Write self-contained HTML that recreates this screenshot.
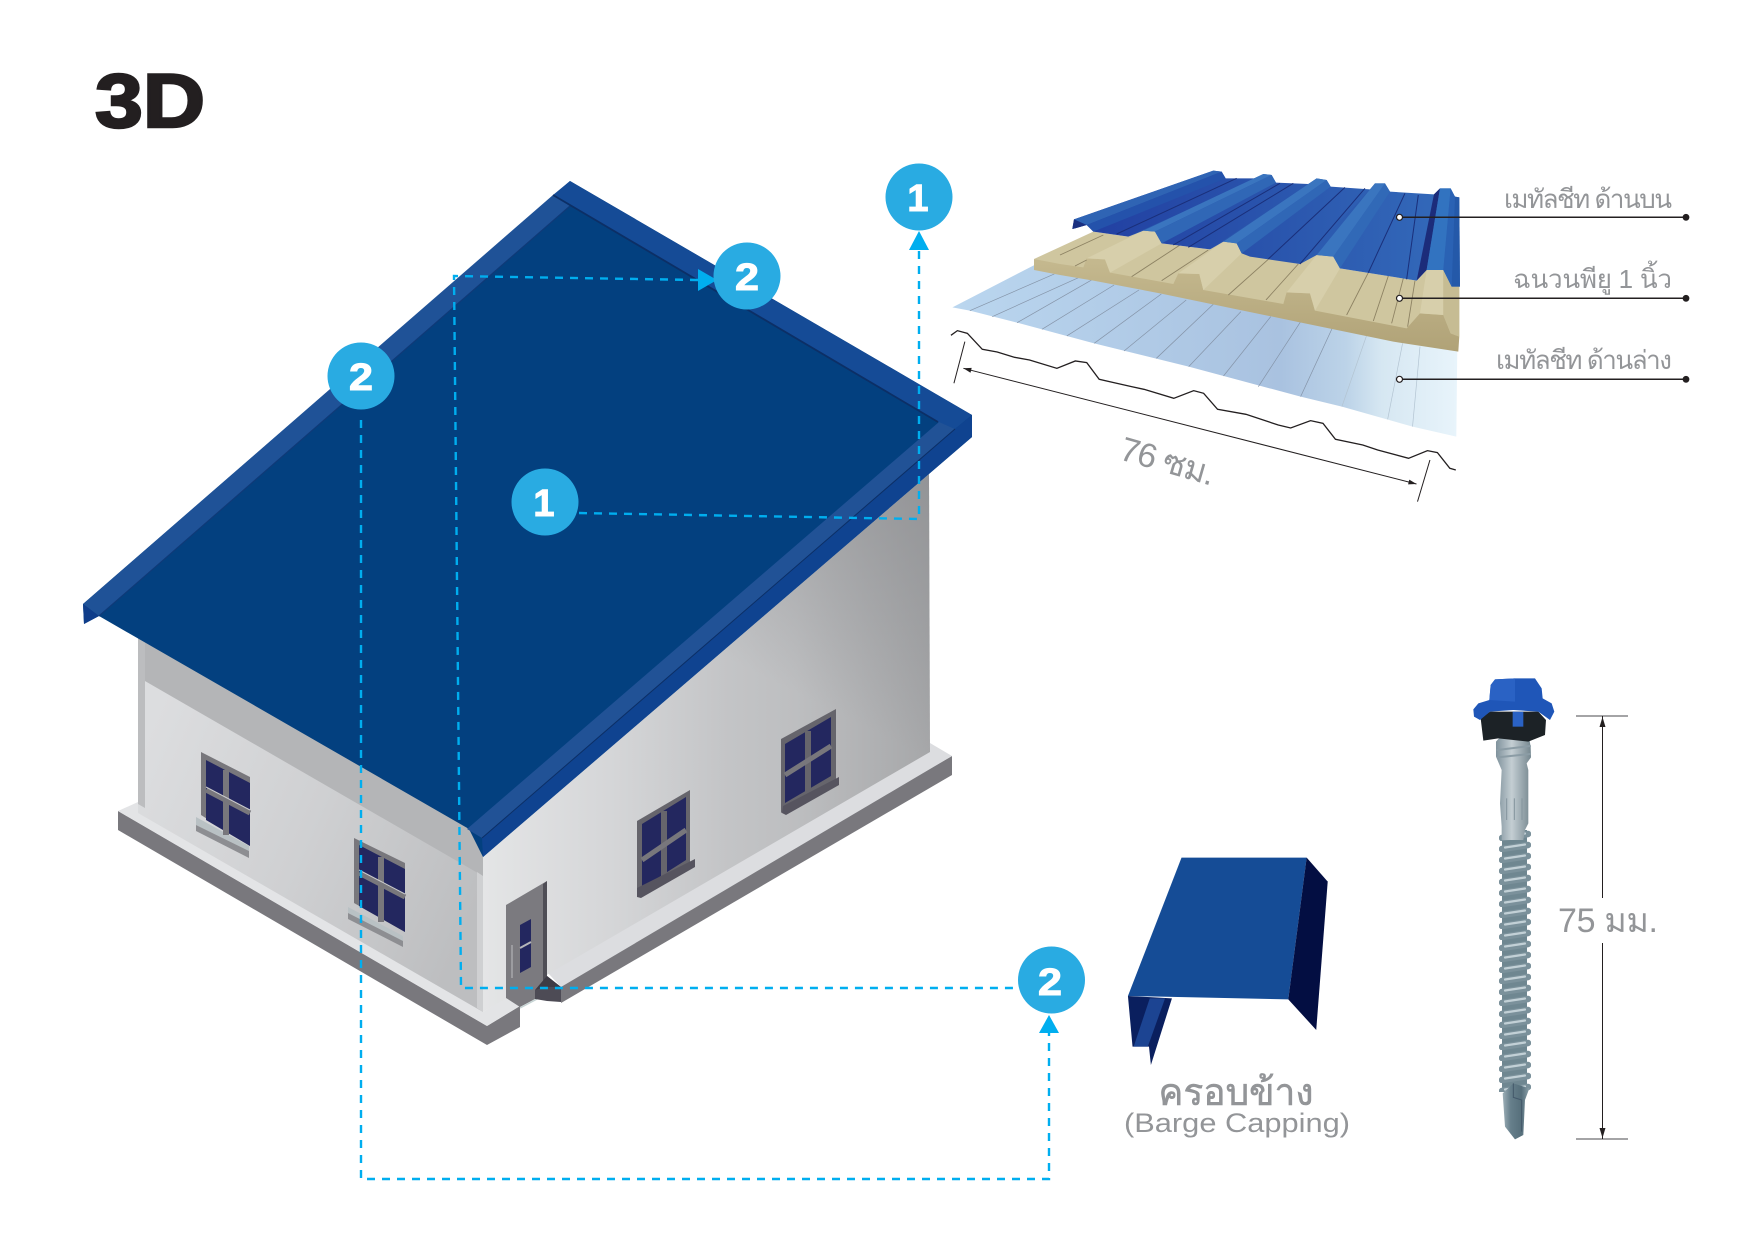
<!DOCTYPE html>
<html lang="th"><head><meta charset="utf-8"><title>3D</title>
<style>html,body{margin:0;padding:0;background:#fff}svg{display:block}
text{font-family:"Liberation Sans","DejaVu Sans","Noto Sans CJK SC",sans-serif}
.g{fill:#939598}.n{font-weight:700;fill:#fff;stroke:#fff;stroke-width:1;text-anchor:middle}
.d{fill:none;stroke:#00aeef;stroke-width:2.4;stroke-dasharray:8 7}
.z line,.z polyline{vector-effect:non-scaling-stroke}</style></head><body>
<svg xmlns="http://www.w3.org/2000/svg" width="1754" height="1240" viewBox="0 0 1754 1240">
<defs>
<linearGradient id="rw" gradientUnits="userSpaceOnUse" x1="483" y1="0" x2="930" y2="0"><stop offset="0" stop-color="#e4e5e6"/><stop offset=".3" stop-color="#d4d5d7"/><stop offset=".55" stop-color="#c3c4c6"/><stop offset=".7" stop-color="#bdbec0"/><stop offset="1" stop-color="#a6a7a9"/></linearGradient>
<linearGradient id="lw" gradientUnits="userSpaceOnUse" x1="140" y1="750" x2="480" y2="900"><stop offset="0" stop-color="#dcdddf"/><stop offset=".5" stop-color="#cfd0d2"/><stop offset="1" stop-color="#bdbec0"/></linearGradient>
<linearGradient id="rt" gradientUnits="userSpaceOnUse" x1="900" y1="470" x2="790" y2="690"><stop offset="0" stop-color="#87888b" stop-opacity=".6"/><stop offset="1" stop-color="#87888b" stop-opacity="0"/></linearGradient>
<linearGradient id="bl" gradientUnits="userSpaceOnUse" x1="100" y1="0" x2="1100" y2="0"><stop offset="0" stop-color="#2240a2"/><stop offset=".55" stop-color="#2a55ad"/><stop offset="1" stop-color="#3267b8"/></linearGradient>
<linearGradient id="pl" gradientUnits="userSpaceOnUse" x1="25" y1="0" x2="1040" y2="0"><stop offset="0" stop-color="#bad6ef"/><stop offset=".65" stop-color="#a9c2e0"/><stop offset=".78" stop-color="#bcd3e8"/><stop offset=".85" stop-color="#d6e7f2"/><stop offset="1" stop-color="#e8f4fb"/></linearGradient>
<linearGradient id="fr" x1="0" x2="0" y1="0" y2="1"><stop offset="0" stop-color="#c5b98f"/><stop offset="1" stop-color="#b0a277"/></linearGradient>
<pattern id="th" x="1499" y="830" width="32" height="11" patternUnits="userSpaceOnUse"><path d="M3 8 L29 4" stroke="#7b919b" stroke-width="6.5" stroke-linecap="round" fill="none"/><path d="M6 6.5 L26 3.5" stroke="#c2d0d6" stroke-width="2.2" stroke-linecap="round" fill="none"/></pattern>
<linearGradient id="sh" x1="0" x2="1" y1="0" y2="0"><stop offset="0" stop-color="#7f929c"/><stop offset=".45" stop-color="#c4ced3"/><stop offset="1" stop-color="#75878f"/></linearGradient>
<linearGradient id="tp" x1="0" x2="1" y1="0" y2="0"><stop offset="0" stop-color="#9eb0b8"/><stop offset=".3" stop-color="#667f8b"/><stop offset=".7" stop-color="#566f7b"/><stop offset="1" stop-color="#8ba0a9"/></linearGradient>
</defs>
<text x="95" y="127" font-size="76" font-weight="700" textLength="110" lengthAdjust="spacingAndGlyphs" fill="#231f20" stroke="#231f20" stroke-width="2.5">3D</text>

<!-- house -->
<polygon points="118,811 118,830 487,1045 520,1027 520,1006 487,1026" fill="#79787d"/>
<polygon points="561,982 952,756 952,775 561,1003" fill="#79787d"/>
<polygon points="138,802 118,811 487,1026 520,1006 506,998 483,1012" fill="#e3e4e6"/>
<polygon points="548,973 930,743 952,756 561,987" fill="#dcdde0"/>
<polygon points="138,630 483,830 483,1012 138,813" fill="url(#lw)"/>
<polygon points="138,630 483,830 483,876 138,677" fill="#b4b5b7"/>
<polygon points="138,630 145,634 145,808 138,804" fill="#bcbdbf"/>
<polygon points="477,872 483,876 483,1012 477,1008" fill="#cfd0d2"/>
<polygon points="483,857 929,474 930,752 483,1012" fill="url(#rw)"/>
<polygon points="483,857 929,474 930,752 483,1012" fill="url(#rt)"/>
<!-- windows left -->
<polygon points="196,817 249,846 249,851 196,825" fill="#b9c1c4"/><polygon points="196,825 249,851 249,858 196,831" fill="#8d8e92"/>
<polygon points="201,752 250,777 250,846 201,815" fill="#78777c"/>
<polygon points="206,760 250,783 250,846 206,820" fill="#23275f"/>
<line x1="226" y1="770" x2="226" y2="835" stroke="#78777c" stroke-width="6"/><line x1="206" y1="790" x2="250" y2="813" stroke="#78777c" stroke-width="5"/><line x1="206" y1="787" x2="250" y2="810" stroke="#c9cacc" stroke-width="1"/>
<polygon points="348,907 403,936 403,941 348,913" fill="#b9c1c4"/><polygon points="348,913 403,941 403,947 348,919" fill="#8d8e92"/>
<polygon points="354,838 405,863 405,932 354,903" fill="#78777c"/>
<polygon points="359,845 405,869 405,932 359,906" fill="#23275f"/>
<line x1="381" y1="857" x2="381" y2="922" stroke="#78777c" stroke-width="6"/><line x1="359" y1="873" x2="405" y2="897" stroke="#78777c" stroke-width="5"/><line x1="359" y1="870" x2="405" y2="894" stroke="#c9cacc" stroke-width="1"/>
<!-- windows right -->
<polygon points="637,821 690,790 690,865 637,895" fill="#66656c"/>
<polygon points="642,824 686,797 686,860 642,888" fill="#23275f"/>
<line x1="664" y1="811" x2="664" y2="876" stroke="#66656c" stroke-width="6"/><line x1="642" y1="860" x2="686" y2="830" stroke="#78777c" stroke-width="5"/>
<polygon points="637,888 695,859 695,867 641,898 637,897" fill="#56545f"/>
<polygon points="781,739 836,709 836,779 781,813" fill="#66656c"/>
<polygon points="785,744 831,717 831,776 785,803" fill="#23275f"/>
<line x1="808" y1="731" x2="808" y2="792" stroke="#66656c" stroke-width="6"/><line x1="785" y1="775" x2="831" y2="746" stroke="#78777c" stroke-width="5"/>
<polygon points="783,806 839,777 839,785 786,815 782,813" fill="#56545f"/>
<!-- door -->
<polygon points="506,905 547,881 547,977 535,990 535,999 520,1007 506,998" fill="#7b7a7f"/>
<polygon points="543,884 547,881 547,977 543,981" fill="#4f4e56"/>
<polygon points="520,925 531,919 531,967 520,973" fill="#23275f"/>
<line x1="520" y1="948" x2="531" y2="942" stroke="#b5b6ba" stroke-width="2"/>
<line x1="512" y1="945" x2="512" y2="978" stroke="#a8a8ac" stroke-width="1.5"/>
<line x1="520" y1="1008" x2="537" y2="999" stroke="#c5d3d3" stroke-width="1.5"/>
<polygon points="535,990 547,976 561,987 561,1002 547,1001 535,999" fill="#4d4b55"/>
<polygon points="547,976 561,987 547,987 535,990" fill="#3d3b45"/>
<!-- roof -->
<polygon points="570,181 972,415 972,437 483,857 469,829 99,616 84,624 83,604" fill="#03407f"/>
<polygon points="553,195 570,206 99,616 83,604" fill="#1f5297"/>
<line x1="570" y1="206" x2="99" y2="616" stroke="#0f3a78" stroke-width="1.2"/>
<polygon points="83,604 99,616 84,624" fill="#0f3d8a"/>
<polygon points="570,181 972,415 955,429 938,422 553,195" fill="#154b96"/>
<line x1="553" y1="195" x2="938" y2="422" stroke="#0c2f66" stroke-width="1.8"/>
<polygon points="939,422 955,429 482,838 467,829" fill="#215296"/>
<polygon points="972,415 972,437 483,857 482,838 955,429" fill="#0f4390"/>
<line x1="955" y1="429" x2="482" y2="838" stroke="#0c2f66" stroke-width="1"/>

<!-- dashed connectors -->
<path class="d" d="M579 513 L919 519 V250"/>
<polygon points="919,231 909,250 929,250" fill="#00aeef"/>
<path class="d" d="M698 280 L454 276 L461 988 H1018"/>
<polygon points="717,280 698,269 698,291" fill="#00aeef"/>
<path class="d" d="M361 420 V1179 H1049 V1033"/>
<polygon points="1049,1015 1039,1033 1059,1033" fill="#00aeef"/>

<circle cx="919" cy="197" r="33.5" fill="#29abe2"/><text class="n" x="918" y="211" font-size="38">1</text>
<circle cx="747" cy="276" r="33.5" fill="#29abe2"/><text class="n" x="747" y="290" font-size="38" textLength="24" lengthAdjust="spacingAndGlyphs">2</text>
<circle cx="361" cy="376" r="33.5" fill="#29abe2"/><text class="n" x="361" y="390" font-size="38" textLength="24" lengthAdjust="spacingAndGlyphs">2</text>
<circle cx="545" cy="502" r="33.5" fill="#29abe2"/><text class="n" x="544" y="516" font-size="38">1</text>
<circle cx="1051.5" cy="980" r="33.5" fill="#29abe2"/><text class="n" x="1050" y="995" font-size="38" textLength="24" lengthAdjust="spacingAndGlyphs">2</text>

<!-- lower metal -->
<g class="z" transform="translate(940,150) scale(.4974,.3333)">
<polygon points="25,472 190,345 1040,590 1038,860 950,830 808,770 725,740 500,650 310,580 155,518 60,482" fill="url(#pl)"/>
<g stroke="#8594a8" stroke-width=".7" fill="none">
<line x1="60" y1="482" x2="230" y2="372"/><line x1="105" y1="500" x2="280" y2="382"/><line x1="155" y1="518" x2="305" y2="390"/><line x1="205" y1="538" x2="350" y2="405"/><line x1="255" y1="558" x2="400" y2="420"/><line x1="310" y1="580" x2="445" y2="432"/><line x1="370" y1="603" x2="495" y2="450"/><line x1="435" y1="625" x2="550" y2="462"/><line x1="500" y1="650" x2="605" y2="485"/><line x1="570" y1="678" x2="665" y2="500"/><line x1="640" y1="710" x2="725" y2="515"/><line x1="725" y1="740" x2="790" y2="530"/>
</g>
<g stroke="#b3c4d2" stroke-width=".7" fill="none"><line x1="808" y1="770" x2="858" y2="555"/><line x1="900" y1="808" x2="930" y2="580"/><line x1="950" y1="830" x2="965" y2="590"/></g>
<polyline points="22,556 35,542 55,550 85,598 115,606 150,622 180,630 235,655 272,633 295,638 320,688 385,710 410,718 470,745 510,722 530,730 558,778 615,793 680,825 705,834 745,812 770,820 795,868 850,885 880,900 942,925 980,902 1000,908 1025,955 1037,960" fill="none" stroke="#231f20" stroke-width="1.3"/>
<line x1="47" y1="655" x2="958" y2="1002" stroke="#231f20" stroke-width="1"/>
<line x1="50" y1="575" x2="28" y2="700" stroke="#231f20" stroke-width="1"/>
<line x1="985" y1="930" x2="960" y2="1055" stroke="#231f20" stroke-width="1"/>
</g>
<polygon points="963.4,368.3 970.5,372.7 971.7,367.9" fill="#231f20"/>
<polygon points="1416.5,484 1408.1,484.4 1409.3,479.6" fill="#231f20"/>
<text class="g" transform="translate(1118 459) rotate(16)" font-size="34" textLength="97">76 ซม.</text>

<!-- foam + top metal, crop coordinates -->
<g class="z" transform="translate(1060,160) scale(.3333)">
<polygon points="-78,297 100,215 205,230 250,212 285,215 305,250 450,268 490,245 530,250 545,280 720,312 770,285 820,290 840,325 1070,362 1100,330 1150,330 1175,380 1198,380 1198,530 1000,500 0,320" fill="#cfc69f"/>
<polygon points="-78,297 0,312 70,322 80,295 135,298 150,338 340,372 355,340 418,342 430,390 670,432 680,397 750,400 765,452 1040,505 1080,460 1150,465 1172,520 1198,530 1195,575 1000,545 720,487 540,450 300,400 100,362 0,345 -78,330" fill="url(#fr)"/>
<polygon points="80,295 250,212 285,215 305,250 150,338 135,298" fill="#d7cfab"/>
<polygon points="355,340 490,245 530,250 545,280 430,390 418,342" fill="#d7cfab"/>
<polygon points="680,397 770,285 820,290 840,325 765,452 750,400" fill="#d7cfab"/>
<polygon points="1080,460 1100,330 1150,330 1150,465" fill="#d7cfab"/>
<polygon points="1150,330 1175,380 1198,380 1198,530 1172,520 1150,465" fill="#c6bc93"/>
<g stroke="#8d8263" stroke-width=".9" fill="none">
<line x1="0" y1="285" x2="130" y2="225"/><line x1="45" y1="318" x2="80" y2="300"/><line x1="215" y1="350" x2="360" y2="255"/><line x1="305" y1="362" x2="445" y2="270"/><line x1="505" y1="405" x2="625" y2="298"/><line x1="618" y1="420" x2="715" y2="312"/><line x1="860" y1="465" x2="925" y2="338"/><line x1="940" y1="483" x2="985" y2="348"/><line x1="995" y1="490" x2="1030" y2="355"/><line x1="1043" y1="500" x2="1065" y2="362"/>
</g>
<polygon points="37,207 42,178 460,32 485,35 497,55 590,55 610,42 635,45 648,68 745,72 770,55 800,60 812,80 930,88 945,70 975,70 990,95 1122,103 1140,85 1172,85 1185,110 1198,112 1200,380 1175,380 1150,330 1100,330 1070,362 840,325 820,290 770,285 720,312 570,290 545,280 530,250 490,245 450,268 305,250 285,215 250,212 205,230 100,215 80,195 45,205" fill="url(#bl)"/>
<polygon points="42,178 460,32 485,35 80,195" fill="#2f64b4"/>
<polygon points="37,207 42,178 80,195 45,205" fill="#1a2f80"/>
<polygon points="80,195 485,35 497,55 100,215" fill="#2452ab"/>
<polygon points="205,230 590,55 610,42 250,212" fill="#2a5cb0"/>
<polygon points="250,212 610,42 635,45 285,215" fill="#3a75bf"/>
<polygon points="285,215 635,45 648,68 305,250" fill="#3067b6"/>
<polygon points="450,268 745,72 770,55 490,245" fill="#2b57ad"/>
<polygon points="490,245 770,55 800,60 530,250" fill="#3a75bf"/>
<polygon points="530,250 800,60 812,80 545,280" fill="#3067b6"/>
<polygon points="720,312 930,88 945,70 770,285" fill="#2c5bb0"/>
<polygon points="770,285 945,70 975,70 820,290" fill="#3a75bf"/>
<polygon points="820,290 975,70 990,95 840,325" fill="#3169b7"/>
<polygon points="1070,362 1122,103 1140,85 1100,330" fill="#1c2c7a"/>
<polygon points="1100,330 1140,85 1172,85 1150,330" fill="#3273c0"/>
<polygon points="1150,330 1172,85 1185,110 1175,380" fill="#2a62b4"/>
<polygon points="1175,380 1185,110 1198,112 1200,380" fill="#2459a9"/>
<g stroke="#1a2f7a" stroke-width="1" fill="none">
<line x1="170" y1="222" x2="530" y2="55"/><line x1="340" y1="255" x2="660" y2="70"/><line x1="385" y1="262" x2="700" y2="70"/><line x1="625" y1="297" x2="855" y2="82"/><line x1="720" y1="312" x2="915" y2="85"/><line x1="925" y1="338" x2="1035" y2="100"/><line x1="1040" y1="358" x2="1075" y2="105"/>
</g>
</g>

<g stroke="#231f20" stroke-width="1.5"><line x1="1399.5" y1="217.3" x2="1686" y2="217.3"/><line x1="1399.5" y1="298.3" x2="1686" y2="298.3"/><line x1="1399.5" y1="379.3" x2="1686" y2="379.3"/></g>
<g fill="#231f20"><circle cx="1686" cy="217.3" r="3.4"/><circle cx="1686" cy="298.3" r="3.4"/><circle cx="1686" cy="379.3" r="3.4"/></g>
<g fill="#fff" stroke="#231f20" stroke-width="1.2"><circle cx="1399.5" cy="217.3" r="3"/><circle cx="1399.5" cy="298.3" r="3"/><circle cx="1399.5" cy="379.3" r="3"/></g>
<text class="g" x="1672" y="208" font-size="26" text-anchor="end" textLength="168">เมทัลชีท ด้านบน</text>
<text class="g" x="1672" y="288" font-size="26" text-anchor="end" textLength="159">ฉนวนพียู 1 นิ้ว</text>
<text class="g" x="1672" y="369" font-size="26" text-anchor="end" textLength="176">เมทัลชีท ด้านล่าง</text>

<!-- barge capping -->
<g transform="translate(1100,660) scale(.3827,.33333)">
<polygon points="73,1008 188,1015 133,1215 128,1160 85,1160" fill="#0a1f5e"/>
<polygon points="130,1015 170,1015 125,1160 88,1160" fill="#1c4492"/>
<polygon points="213,593 540,593 492,1018 73,1008" fill="#154c96"/>
<polygon points="540,593 595,665 565,1110 492,1018" fill="#030e42"/>
</g>
<text class="g" x="1236" y="1105" font-size="38" text-anchor="middle" textLength="155" lengthAdjust="spacingAndGlyphs" stroke="#939598" stroke-width=".6">ครอบข้าง</text>
<text class="g" x="1124" y="1132" font-size="27" textLength="226" lengthAdjust="spacingAndGlyphs">(Barge Capping)</text>

<!-- screw -->
<polygon points="1502,830 1527,830 1527,1092 1502,1092" fill="#6f8791"/>
<rect x="1499" y="830" width="32" height="262" fill="url(#th)"/>
<g transform="translate(1480,1000) scale(.3333)">
<polygon points="68,280 100,250 148,265 135,300 130,405 105,418 75,380" fill="url(#tp)"/>
<polyline points="100,250 100,292 125,300 125,395" fill="none" stroke="#43586a" stroke-width="3"/>
</g>
<g transform="translate(1460,670) scale(.3333)">
<polygon points="108,215 130,190 205,190 212,230 213,262 200,280 205,300 205,460 195,480 190,510 125,510 125,470 120,400 125,300 108,260" fill="url(#sh)"/>
<g stroke="#8b9ca5" stroke-width="6" fill="none" stroke-linecap="round"><line x1="112" y1="240" x2="210" y2="228"/><line x1="112" y1="262" x2="210" y2="252"/></g>
<g stroke="#84949d" stroke-width="3" fill="none"><line x1="140" y1="385" x2="140" y2="450"/><line x1="163" y1="385" x2="163" y2="450"/><line x1="186" y1="385" x2="186" y2="450"/></g>
<polygon points="62,145 90,125 235,125 258,150 255,195 205,215 115,205 70,212" fill="#1c2226"/>
<polygon points="158,125 190,125 190,170 158,170" fill="#2a62c4"/>
<polygon points="88,90 92,45 105,28 165,25 225,25 245,55 248,85 275,100 283,125 270,150 235,125 160,120 90,125 60,150 42,140 40,118 55,100" fill="#1f56b8"/>
<polygon points="105,28 165,25 165,95 88,90 92,45" fill="#2a62c4"/>
</g>

<g stroke="#6d6e71" stroke-width="1.3"><line x1="1576" y1="716" x2="1628" y2="716"/><line x1="1576" y1="1139" x2="1628" y2="1139"/></g>
<g stroke="#231f20" stroke-width="1"><line x1="1602.5" y1="716" x2="1602.5" y2="898"/><line x1="1602.5" y1="943" x2="1602.5" y2="1139"/></g>
<polygon points="1602.5,717 1599.5,727 1605.5,727" fill="#231f20"/><polygon points="1602.5,1138 1599.5,1128 1605.5,1128" fill="#231f20"/>
<text class="g" x="1608" y="932" font-size="34" text-anchor="middle" textLength="100">75 มม.</text>
</svg></body></html>
